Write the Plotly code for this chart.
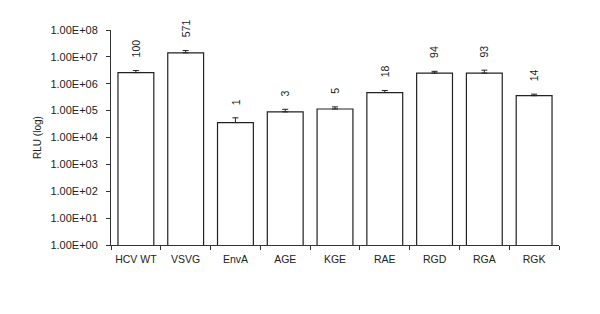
import math
import plotly.graph_objects as go

categories = ["HCV WT", "VSVG", "EnvA", "AGE", "KGE", "RAE", "RGD", "RGA", "RGK"]
rlu_values = [2.6e6, 1.42e7, 3.6e4, 9.0e4, 1.15e5, 4.7e5, 2.5e6, 2.5e6, 3.6e5]
rlu_errors = [5.0e5, 3.0e6, 1.8e4, 2.2e4, 2.3e4, 9.0e4, 4.0e5, 7.0e5, 5.0e4]
percent_labels = ["100", "571", "1", "3", "5", "18", "94", "93", "14"]
tick_values = [1e0, 1e1, 1e2, 1e3, 1e4, 1e5, 1e6, 1e7, 1e8]
tick_labels = ["1.00E+00", "1.00E+01", "1.00E+02", "1.00E+03", "1.00E+04",
               "1.00E+05", "1.00E+06", "1.00E+07", "1.00E+08"]

FONT = "Liberation Sans, Arial, sans-serif"
AX = "#333333"

fig = go.Figure()
fig.add_trace(go.Bar(
    x=categories, y=rlu_values,
    marker=dict(color="white", line=dict(color="#222222", width=1.2)),
    width=0.72,
    error_y=dict(type="data", array=rlu_errors, arrayminus=[0] * len(rlu_errors),
                 symmetric=False, color="#222222", thickness=1, width=3),
    showlegend=False,
))

for c, v, e, t in zip(categories, rlu_values, rlu_errors, percent_labels):
    fig.add_annotation(x=c, y=math.log10(v + e), text=t, textangle=-90,
                       showarrow=False, yanchor="bottom", yshift=11,
                       font=dict(family=FONT, size=10.5, color="#222222"))

# page body has an 8px default margin, so the figure is 8px smaller
fig.update_layout(
    width=592, height=306,
    margin=dict(l=103, r=41, t=22, b=69, autoexpand=False),
    paper_bgcolor="white", plot_bgcolor="white",
    font=dict(family=FONT, size=11, color="#222222"),
    bargap=0.28,
)
fig.update_yaxes(
    type="log", range=[0, 8], automargin=False,
    tickvals=tick_values, ticktext=tick_labels,
    tickfont=dict(family=FONT, size=11),
    ticklabelstandoff=6,
    showline=True, linecolor=AX, linewidth=1,
    ticks="outside", ticklen=4, tickcolor=AX,
    showgrid=False, zeroline=False,
    title=dict(text="RLU (log)", font=dict(family=FONT, size=10), standoff=6),
)
fig.update_xaxes(
    automargin=False,
    showline=True, linecolor=AX, linewidth=1,
    ticks="outside", ticklen=4, tickcolor=AX, tickson="boundaries",
    tickfont=dict(family=FONT, size=10.5), tickangle=0,
    ticklabelstandoff=4,
    showgrid=False,
)

fig.write_html("out.html")
